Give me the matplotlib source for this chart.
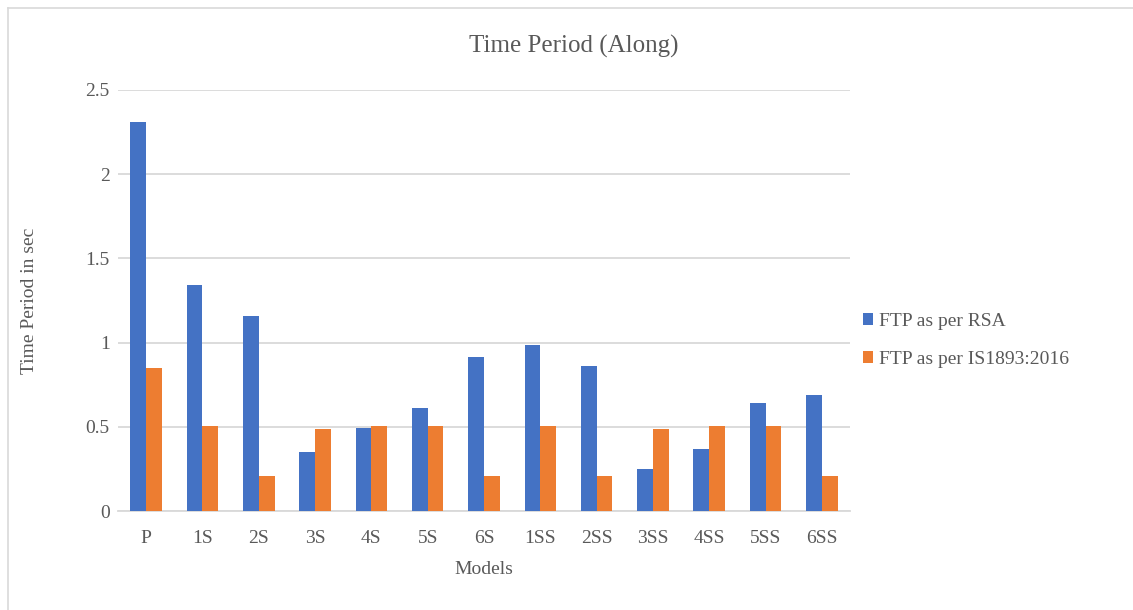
import matplotlib
matplotlib.use("Agg")
import matplotlib.pyplot as plt
from matplotlib.patches import Patch
from matplotlib.lines import Line2D
import numpy as np

# --- Data ---
models = ["P", "1S", "2S", "3S", "4S", "5S", "6S",
          "1SS", "2SS", "3SS", "4SS", "5SS", "6SS"]
ftp_rsa = [2.31, 1.34, 1.155, 0.348, 0.491, 0.61, 0.916,
           0.984, 0.86, 0.25, 0.37, 0.64, 0.69]
ftp_is = [0.851, 0.503, 0.205, 0.485, 0.507, 0.507, 0.205,
          0.503, 0.205, 0.485, 0.507, 0.507, 0.205]
yticks = [0, 0.5, 1, 1.5, 2, 2.5]
ytick_labels = ["0", "0.5", "1", "1.5", "2", "2.5"]

# --- Style ---
BLUE = "#4472C4"
ORANGE = "#ED7D31"
GRID = "#D9D9D9"
TEXT = "#595959"
plt.rcParams["font.family"] = ["Liberation Serif", "DejaVu Serif"]

fig = plt.figure(figsize=(11.33, 6.10), dpi=100)
ax = fig.add_axes([118 / 1133, 1 - 511 / 610, 732 / 1133, 421 / 610])

x = np.arange(len(models))
w = 0.28
ax.bar(x - w / 2, ftp_rsa, width=w, color=BLUE, label="FTP as per RSA", zorder=3)
ax.bar(x + w / 2, ftp_is, width=w, color=ORANGE, label="FTP as per IS1893:2016", zorder=3)

ax.set_xlim(-0.5, len(models) - 0.5)
ax.set_ylim(0, 2.5)
ax.set_yticks(yticks)
ax.set_yticklabels(ytick_labels)
ax.set_xticks(x)
ax.set_xticklabels(models)
ax.yaxis.grid(True, color=GRID, linewidth=1.3, zorder=0)
ax.set_axisbelow(True)
for s in ["top", "right", "left"]:
    ax.spines[s].set_visible(False)
ax.spines["bottom"].set_color(GRID)
ax.spines["bottom"].set_linewidth(1.3)
ax.tick_params(axis="both", length=0, labelsize=14, labelcolor=TEXT)
ax.tick_params(axis="y", pad=6)
ax.tick_params(axis="x", pad=14)

ax.set_xlabel("Models", fontsize=14, color=TEXT)
ax.set_ylabel("Time Period in sec", fontsize=14, color=TEXT)
ax.xaxis.set_label_coords(0.5, (511 - 561) / 421)
ax.yaxis.set_label_coords((38 - 118) / 732, 0.5)
fig.text(574 / 1133, 1 - 46 / 610, "Time Period (Along)", fontsize=18,
         color=TEXT, ha="center", va="center")

handles = [Patch(facecolor=BLUE), Patch(facecolor=ORANGE)]
fig.legend(handles, ["FTP as per RSA", "FTP as per IS1893:2016"],
           loc="center left", bbox_to_anchor=(845 / 1133, 1 - 340.5 / 610),
           frameon=False, fontsize=14, labelcolor=TEXT,
           handlelength=0.55, handleheight=0.55, handletextpad=0.3,
           labelspacing=1.1)

# chart border (left and top edges visible)
fig.add_artist(Line2D([7.5 / 1133, 7.5 / 1133], [0, 1 - 8 / 610],
                      transform=fig.transFigure, color=GRID, linewidth=1.2))
fig.add_artist(Line2D([7.5 / 1133, 1], [1 - 8 / 610, 1 - 8 / 610],
                      transform=fig.transFigure, color=GRID, linewidth=1.2))

fig.savefig("out.png", dpi=100, facecolor="white")
